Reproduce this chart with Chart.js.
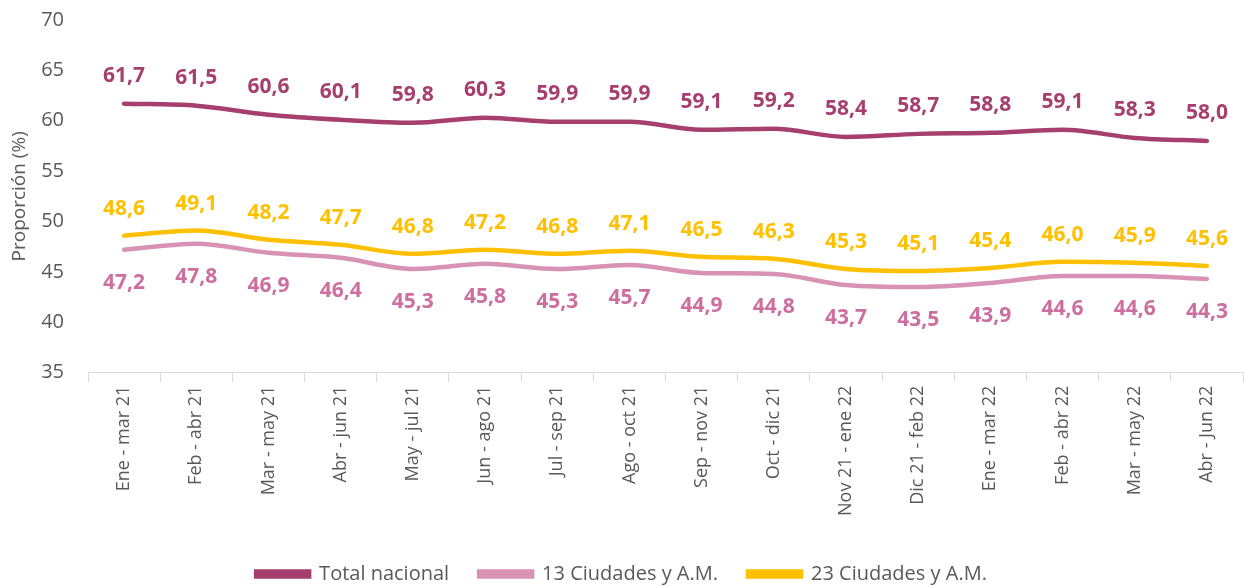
<!DOCTYPE html>
<html>
<head>
<meta charset="utf-8">
<script src="https://cdn.jsdelivr.net/npm/chart.js@4.4.0/dist/chart.umd.min.js"></script>
<style>
html,body{margin:0;padding:0;background:#fff;}
#wrap{width:1244px;height:586px;position:relative;}
</style>
</head>
<body>
<div id="wrap"><canvas id="c" width="1244" height="586"></canvas></div>
<script>
const categories = ["Ene - mar 21","Feb - abr 21","Mar - may 21","Abr - jun 21","May - jul 21","Jun - ago 21","Jul - sep 21","Ago - oct 21","Sep - nov 21","Oct - dic 21","Nov 21 - ene 22","Dic 21 - feb 22","Ene - mar 22","Feb - abr 22","Mar - may 22","Abr - Jun 22"];
const totalNacional = [61.7,61.5,60.6,60.1,59.8,60.3,59.9,59.9,59.1,59.2,58.4,58.7,58.8,59.1,58.3,58.0];
const ciudades13 = [47.2,47.8,46.9,46.4,45.3,45.8,45.3,45.7,44.9,44.8,43.7,43.5,43.9,44.6,44.6,44.3];
const ciudades23 = [48.6,49.1,48.2,47.7,46.8,47.2,46.8,47.1,46.5,46.3,45.3,45.1,45.4,46.0,45.9,45.6];
const yTicks = [35,40,45,50,55,60,65,70];

const FONT = "'Open Sans', 'Noto Sans', sans-serif";
const GREY = '#595959';

const labelPlugin = {
  id: 'valueLabels',
  afterDatasetsDraw(chart) {
    const ctx = chart.ctx;
    ctx.save();
    ctx.font = 'bold 21px ' + FONT;
    ctx.textAlign = 'center';
    ctx.textBaseline = 'middle';
    chart.data.datasets.forEach((ds, i) => {
      const meta = chart.getDatasetMeta(i);
      meta.data.forEach((pt, j) => {
        ctx.fillStyle = ds.labelColor;
        ctx.fillText(ds.data[j].toFixed(1).replace('.', ','), pt.x, pt.y + ds.labelOffset);
      });
    });
    ctx.restore();
  }
};

new Chart(document.getElementById('c'), {
  type: 'line',
  data: {
    labels: categories,
    datasets: [
      {label: 'Total nacional', data: totalNacional, borderColor: '#A63F6E', backgroundColor: '#A63F6E', labelColor: '#A63F6E', labelOffset: -28},
      {label: '13 Ciudades y A.M.', data: ciudades13, borderColor: '#D892B4', backgroundColor: '#D892B4', labelColor: '#CC6F9E', labelOffset: 33},
      {label: '23 Ciudades y A.M.', data: ciudades23, borderColor: '#FFC000', backgroundColor: '#FFC000', labelColor: '#FFC000', labelOffset: -27}
    ].map(d => Object.assign(d, {borderWidth: 4.5, pointRadius: 0, tension: 0.4, cubicInterpolationMode: 'monotone', borderCapStyle: 'round', fill: false}))
  },
  options: {
    responsive: false,
    animation: false,
    devicePixelRatio: 1,
    layout: {padding: {top: 20, right: 1, left: 0, bottom: -8}},
    plugins: {
      legend: {
        position: 'bottom',
        labels: {boxWidth: 53, boxHeight: 5, padding: 30, color: GREY, font: {family: FONT, size: 20}}
      },
      tooltip: {enabled: false}
    },
    scales: {
      x: {
        offset: true,
        grid: {display: true, drawOnChartArea: false, drawTicks: true, tickLength: 9, color: '#D9D9D9', offset: true},
        border: {display: true, color: '#D9D9D9', width: 1},
        ticks: {color: GREY, font: {family: FONT, size: 18}, maxRotation: 90, minRotation: 90, autoSkip: false, padding: 4},
        afterFit(axis) { axis.height += 14; }
      },
      y: {
        min: 35, max: 70,
        afterBuildTicks(axis) { axis.ticks = yTicks.map(v => ({value: v})); },
        grid: {display: false},
        border: {display: false},
        ticks: {color: GREY, font: {family: FONT, size: 20, lineHeight: 1}, padding: 16},
        title: {display: true, text: 'Proporción (%)', color: GREY, font: {family: FONT, size: 19}, padding: {top: 8, bottom: 0}},
        afterFit(axis) { axis.width = 88; axis.paddingTop = 0; axis.paddingBottom = 0; }
      }
    }
  },
  plugins: [labelPlugin]
});
</script>
</body>
</html>
